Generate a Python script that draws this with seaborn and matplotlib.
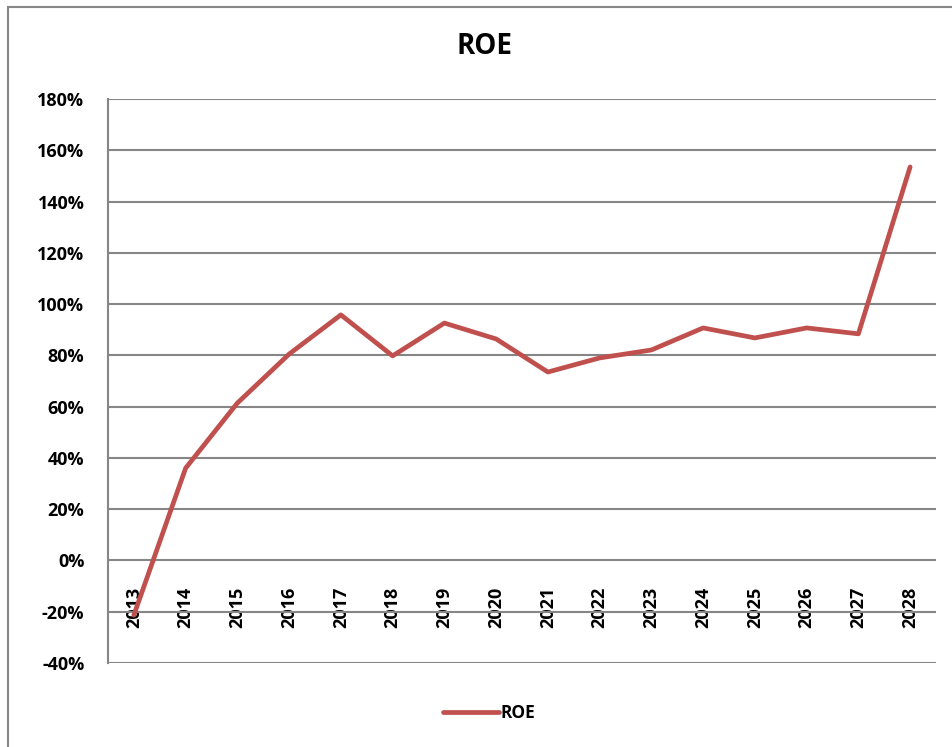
import pandas as pd
import matplotlib.pyplot as plt
import matplotlib.patches as mpatches
from matplotlib.ticker import FuncFormatter, MultipleLocator
import seaborn as sns

# Data
years = ["2013", "2014", "2015", "2016", "2017", "2018", "2019", "2020",
         "2021", "2022", "2023", "2024", "2025", "2026", "2027", "2028"]
roe = [-21.3, 36.0, 61.4, 80.5, 95.8, 79.8, 92.6, 86.4,
       73.5, 79.0, 82.1, 90.7, 86.8, 90.7, 88.4, 153.5]

df = pd.DataFrame({"Year": years, "ROE": roe})

sns.set_style("white")
plt.rcParams["font.family"] = ["Open Sans", "DejaVu Sans"]
plt.rcParams["font.weight"] = "bold"
plt.rcParams["text.color"] = "black"
plt.rcParams["xtick.color"] = "black"
plt.rcParams["ytick.color"] = "black"

fig = plt.figure(figsize=(9.53, 7.47), dpi=100)
ax = fig.add_axes([108 / 953, 1 - 663 / 747, (936 - 108) / 953, (663 - 99) / 747])

grid_color = "#868686"
line_color = "#C0504D"

sns.lineplot(data=df, x="Year", y="ROE", ax=ax, color=line_color,
             linewidth=3.4, sort=False, label="ROE", legend=False,
             solid_capstyle="round", solid_joinstyle="round", zorder=3)

ax.set_xlim(-0.5, len(years) - 0.5)
ax.set_ylim(-40, 180)
ax.yaxis.set_major_locator(MultipleLocator(20))
ax.yaxis.set_major_formatter(FuncFormatter(lambda v, p: f"{v:.0f}%"))
ax.grid(axis="y", color=grid_color, linewidth=1.5)
ax.grid(axis="x", visible=False)
ax.set_axisbelow(True)

for side in ["top", "right"]:
    ax.spines[side].set_visible(False)
ax.spines["left"].set_color(grid_color)
ax.spines["left"].set_linewidth(1.5)
ax.spines["bottom"].set_position(("data", 0))
ax.spines["bottom"].set_visible(False)

ax.set_xlabel("")
ax.set_ylabel("")
ax.tick_params(axis="y", length=0, pad=17, labelsize=13, labelcolor="black")
ax.tick_params(axis="x", length=0, pad=19, labelsize=13, labelrotation=90,
               labelcolor="black")
for lbl in ax.get_xticklabels() + ax.get_yticklabels():
    lbl.set_fontweight("bold")

fig.text(485 / 953, 1 - 47 / 747, "ROE", ha="center", va="center",
         fontsize=20, fontweight="bold", color="black")

leg = fig.legend(handles=ax.get_lines()[:1], labels=["ROE"],
                 loc="center", bbox_to_anchor=(489 / 953, 1 - 713 / 747),
                 frameon=False, handlelength=3.2, handletextpad=0.1,
                 prop={"size": 12.5, "weight": "bold"})

# outer chart border
fig.patches.append(mpatches.Rectangle((8 / 953, -0.05), 1.0, 1 - 7 / 747 + 0.05,
                                      transform=fig.transFigure, fill=False,
                                      edgecolor=grid_color, linewidth=1.5))

fig.savefig("out.png", dpi=100)
